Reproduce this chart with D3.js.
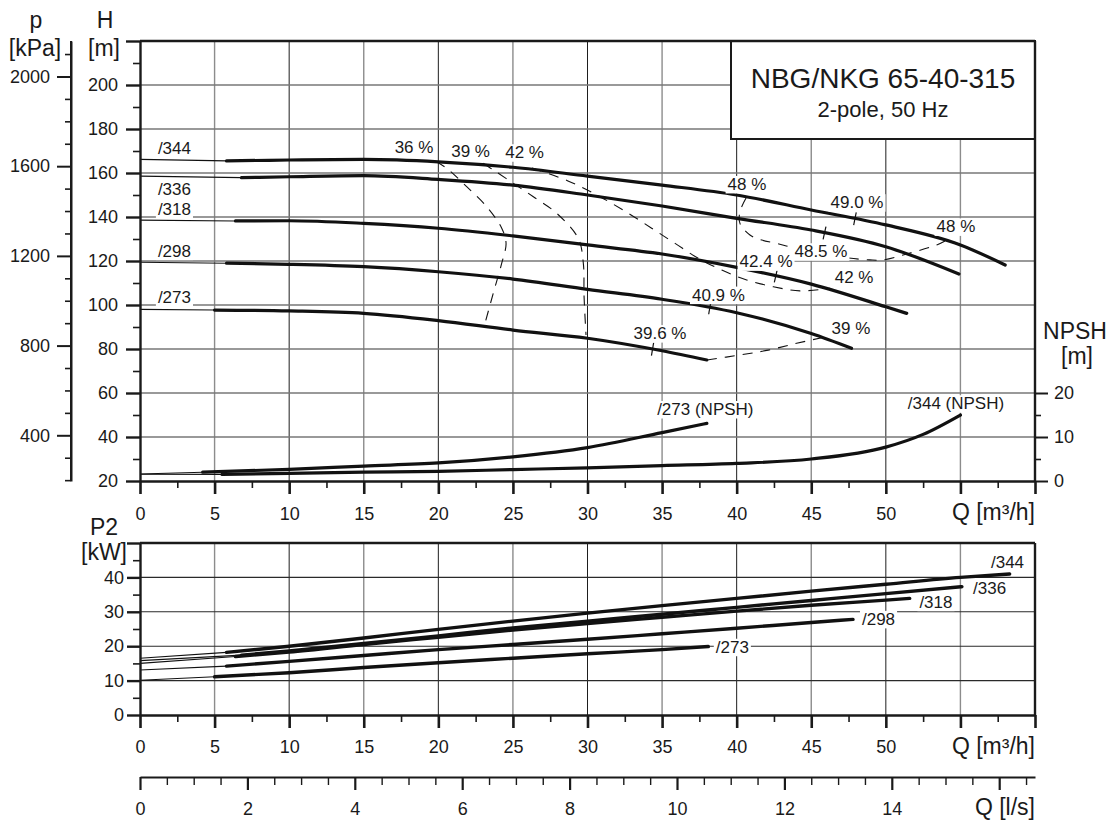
<!DOCTYPE html>
<html><head><meta charset="utf-8">
<script src="https://cdn.jsdelivr.net/npm/d3@7/dist/d3.min.js"></script>
<style>
body{margin:0;background:#fff;}
svg text{font-family:"Liberation Sans",Arial,Helvetica,sans-serif;fill:#1a1a1a;}
</style></head><body>
<svg id="c" width="1113" height="823"></svg>
<script>
// ---------------- DATA ----------------
const impellers = ["/344", "/336", "/318", "/298", "/273"];
const thickFromQ = [5.8, 6.8, 6.4, 5.8, 5.0];           // Q where the solid (thick) part starts
const head344 = [[0,166.2],[5.8,165.5],[10,165.9],[15,166.2],[20,165.1],[25,162.6],[30,158.6],[35,154.5],[40,150.0],[45,143.2],[50,136.4],[55,127.3],[58,118.2]];
const head336 = [[0,158.6],[6.8,157.9],[10,158.3],[15,158.8],[20,157.1],[25,154.5],[30,150.0],[35,145.0],[40,139.4],[45,134.1],[50,126.5],[54.9,114.1]];
const head318 = [[0,138.6],[6.4,138.2],[10,138.3],[15,137.1],[20,134.9],[25,131.4],[30,127.3],[35,123.2],[40,117.1],[45,109.5],[50,99.2],[51.4,96.2]];
const head298 = [[0,119.4],[5.8,119.0],[10,118.5],[15,117.4],[20,115.1],[25,111.8],[30,107.1],[35,102.6],[40,96.5],[45,87.0],[47.7,80.3]];
const head273 = [[0,98.0],[5,97.7],[10,97.3],[15,96.2],[20,92.9],[25,88.6],[30,84.9],[35,79.2],[38,75.0]];

const power344 = [[0,16.5],[5.8,18.2],[10,20.0],[15,22.4],[20,24.9],[25,27.3],[30,29.6],[35,31.8],[40,33.9],[45,36.0],[50,38.0],[55,40.0],[58.3,41.0]];
const power336 = [[0,15.8],[6.8,17.4],[10,18.6],[15,20.8],[20,23.0],[25,25.3],[30,27.3],[35,29.3],[40,31.3],[45,33.3],[50,35.3],[55.1,37.3]];
const power318 = [[0,15.0],[6.4,17.0],[10,18.3],[15,20.5],[20,22.6],[25,24.7],[30,26.6],[35,28.4],[40,30.2],[45,31.9],[50,33.4],[51.6,33.9]];
const power298 = [[0,13.1],[5.8,14.2],[10,15.6],[15,17.3],[20,19.0],[25,20.5],[30,22.0],[35,23.6],[40,25.2],[45,26.9],[47.8,27.8]];
const power273 = [[0,10.1],[5,11.1],[10,12.3],[15,13.8],[20,15.2],[25,16.5],[30,17.8],[35,19.0],[38.1,19.9]];

const npshNames = ["/273 (NPSH)", "/344 (NPSH)"];
const npshThickFromQ = [4.2, 5.5];
const npsh273 = [[0,1.6],[4.2,2.0],[10,2.65],[15,3.4],[20,4.1],[25,5.5],[30,7.6],[35,11.0],[38,13.1]];
const npsh344 = [[0,1.55],[5.5,1.5],[10,1.75],[15,2.0],[20,2.2],[25,2.6],[30,3.0],[35,3.5],[40,4.0],[45,5.0],[50,7.7],[52.5,10.6],[55,15.0]];
const npshLabelQ = [37.9, 54.7];
const npshLabelVal = [15.0, 16.3];

// iso-efficiency contours (Q, H)
const eff36 = [[19.84,165.2],[20.56,162.1],[21.90,153.8],[23.24,144.7],[24.25,134.9],[24.54,128.0],[24.25,119.0],[23.68,105.3],[23.13,91.7]];
const eff39 = [[23.01,164.4],[23.68,161.4],[25.03,155.3],[26.37,149.2],[27.93,141.7],[29.38,130.3],[29.72,119.0],[29.77,103.8],[29.90,86.4]];
const eff42 = [[26.28,162.3],[28.69,156.4],[30.84,149.2],[32.74,141.7],[34.30,134.9],[35.87,128.0],[37.43,121.2],[39.0,115.9],[40.67,111.4],[42.46,108.3],[44.24,106.4],[46.26,107.6]];
const eff48 = [[40.63,148.6],[40.22,142.4],[40.22,137.1],[40.89,131.8],[41.68,129.5],[42.68,128.0],[43.91,125.8],[45.58,123.6],[47.46,121.4],[48.93,120.5],[49.81,120.5],[51.40,123.2],[53.41,127.3],[53.97,129.1]];
const eff39low = [[38.01,75.0],[40.22,77.3],[42.12,79.5],[44.02,82.6],[45.70,85.1]];

// best-efficiency marks on each head curve
const bepQ = [47.93, 45.89, 42.62, 38.2, 34.36];

// efficiency labels
const effLabels = ["36 %","39 %","42 %","48 %","49.0 %","48 %","48.5 %","42.4 %","42 %","40.9 %","39 %","39.6 %"];
const effLabelQ = [18.37,22.16,25.78,40.69,48.07,54.70,45.65,41.97,47.87,38.78,47.66,34.86];
const effLabelH = [169.0,167.4,166.7,152.3,144.0,133.0,121.7,117.1,109.9,102.0,86.8,84.5];

// curve name labels
const headLabelQ = 1.2;
const headLabelH = [168.6,150.0,140.9,122.0,100.8];
const powerLabelQ = [57.05,55.85,52.25,48.4,38.6];
const powerLabelP = [42.7,35.2,31.2,26.2,18.1];

// axis ticks
const qMajor = [0,5,10,15,20,25,30,35,40,45,50,55,60];
const qMinor = [2.5,7.5,12.5,17.5,22.5,27.5,32.5,37.5,42.5,47.5,52.5,57.5];
const hMajor = [20,40,60,80,100,120,140,160,180,200,220];
const hMinor = [30,50,70,90,110,130,150,170,190,210];
const pMajor = [400,800,1200,1600,2000];
const pMinor = [200,300,500,600,700,900,1000,1100,1300,1400,1500,1700,1800,1900,2100];
const npshMajor = [0,10,20];
const npshMinor = [5,15];
const p2Major = [0,10,20,30,40,50];
const p2Minor = [5,15,25,35,45];
const lsMajor = [0,2,4,6,8,10,12,14,16];
const lsMinor = [0.5,1,1.5,2.5,3,3.5,4.5,5,5.5,6.5,7,7.5,8.5,9,9.5,10.5,11,11.5,12.5,13,13.5,14.5,15,15.5,16.5];
const titleLines = ["NBG/NKG 65-40-315","2-pole, 50 Hz"];

// ---------------- SCALES ----------------
const x = d3.scaleLinear([0,60],[140,1035]);
const yH = d3.scaleLinear([20,220],[481,41]);
const yKpa = d3.scaleLinear([20*9.81,220*9.81],[481,41]);
const yN = d3.scaleLinear([0,100],[481,41]);
const yP = d3.scaleLinear([0,50],[715,543]);
const xLs = d3.scaleLinear([0,60/3.6],[140,1035]);

const svg = d3.select('#c');
const FONT = '"Liberation Sans",Arial,Helvetica,sans-serif';
const INK = '#1a1a1a';

// ---------------- GRID ----------------
const grid = svg.append('g');
const qGrid = d3.range(5,60,5);
function vGrid(y0,y1){
  grid.append('g').selectAll('line').data(qGrid).join('line')
    .attr('x1',d=>x(d)).attr('x2',d=>x(d)).attr('y1',y0).attr('y2',y1)
    .attr('stroke',d=>d%10===0?'#1e1e1e':'#8c8c8c').attr('stroke-width',d=>d%10===0?1:1.4);
}
vGrid(yH(220),yH(20));
vGrid(yP(50),yP(0));
grid.append('g').selectAll('line').data(d3.range(40,220,20)).join('line')
  .attr('x1',x(0)).attr('x2',x(60)).attr('y1',d=>yH(d)).attr('y2',d=>yH(d))
  .attr('stroke','#777').attr('stroke-width',1.4);
grid.append('g').selectAll('line').data([10,20,30,40]).join('line')
  .attr('x1',x(0)).attr('x2',x(60)).attr('y1',d=>yP(d)).attr('y2',d=>yP(d))
  .attr('stroke','#2a2a2a').attr('stroke-width',1.1);

// ---------------- TITLE BOX ----------------
const box = svg.append('g');
box.append('rect').attr('x',731).attr('y',yH(220)).attr('width',x(60)-731).attr('height',98)
  .attr('fill','#fff').attr('stroke',INK).attr('stroke-width',2);
box.append('text').attr('x',883).attr('y',88).attr('text-anchor','middle').attr('font-size',28).text(titleLines[0]);
box.append('text').attr('x',883).attr('y',117).attr('text-anchor','middle').attr('font-size',22).text(titleLines[1]);

// ---------------- CURVES ----------------
const curves = svg.append('g').attr('fill','none').attr('stroke','#111');
function drawSplit(data, from, lineGen, w){
  const thin = data.filter(d=>d[0]<=from), thick = data.filter(d=>d[0]>=from);
  curves.append('path').attr('d',lineGen(thin)).attr('stroke-width',1.1);
  curves.append('path').attr('d',lineGen(thick)).attr('stroke-width',w).attr('stroke-linecap','round');
}
const headLine = d3.line().x(d=>x(d[0])).y(d=>yH(d[1])).curve(d3.curveMonotoneX);
const powLine = d3.line().x(d=>x(d[0])).y(d=>yP(d[1])).curve(d3.curveMonotoneX);
const npshLine = d3.line().x(d=>x(d[0])).y(d=>yN(d[1])).curve(d3.curveMonotoneX);
const heads = [head344,head336,head318,head298,head273];
const powers = [power344,power336,power318,power298,power273];
heads.forEach((h,i)=>drawSplit(h,thickFromQ[i],headLine,3.2));
powers.forEach((p,i)=>drawSplit(p,thickFromQ[i],powLine,3.4));
[npsh273,npsh344].forEach((n,i)=>drawSplit(n,npshThickFromQ[i],npshLine,3.2));

const effLine = d3.line().x(d=>x(d[0])).y(d=>yH(d[1])).curve(d3.curveCatmullRom.alpha(0.5));
[eff36,eff39,eff42,eff48,eff39low].forEach(e=>{
  curves.append('path').attr('d',effLine(e)).attr('stroke-width',1.1).attr('stroke-dasharray','10,8');
});

// best efficiency ticks (perpendicular to curve)
heads.forEach((h,i)=>{
  const q = bepQ[i];
  let k = 0; while (k < h.length-2 && h[k+1][0] < q) k++;
  const a = h[k], b = h[k+1];
  const t = (q-a[0])/(b[0]-a[0]);
  const px = x(q), py = yH(a[1]+t*(b[1]-a[1]));
  const dx = x(b[0])-x(a[0]), dy = yH(b[1])-yH(a[1]);
  const L = Math.hypot(dx,dy), nx = -dy/L, ny = dx/L;
  curves.append('line').attr('x1',px-nx*6.5).attr('y1',py-ny*6.5).attr('x2',px+nx*6.5).attr('y2',py+ny*6.5)
    .attr('stroke-width',1.2);
});

// ---------------- LABELS ----------------
const labels = svg.append('g');
function label(xp, yp, txt, size, anchor){
  const t = labels.append('text').attr('x',xp).attr('y',yp).attr('font-size',size)
    .attr('text-anchor',anchor||'middle').text(txt);
  const bb = t.node().getBBox();
  labels.insert('rect',()=>t.node()).attr('x',bb.x-2).attr('y',bb.y+1).attr('width',bb.width+4)
    .attr('height',bb.height-1.5).attr('fill','#fff');
}
effLabels.forEach((s,i)=>label(x(effLabelQ[i]), yH(effLabelH[i]), s, 17));
impellers.forEach((s,i)=>label(x(headLabelQ), yH(headLabelH[i]), s, 17, 'start'));
impellers.forEach((s,i)=>label(x(powerLabelQ[i]), yP(powerLabelP[i]), s, 17, 'start'));
npshNames.forEach((s,i)=>label(x(npshLabelQ[i]), yN(npshLabelVal[i]), s, 17));

// ---------------- AXES ----------------
function axis(gen, tx, ty, w, size){
  const g = svg.append('g').attr('transform',`translate(${tx},${ty})`).call(gen);
  g.attr('font-size',size||18).attr('font-family',FONT);
  g.select('.domain').attr('stroke',INK).attr('stroke-width',w);
  g.selectAll('.tick line').attr('stroke',INK).attr('stroke-width',w);
  g.selectAll('.tick text').attr('fill',INK);
  return g;
}
function noDomain(g){ g.select('.domain').remove(); return g; }
const plain = d3.format('d');

// H axis
axis(d3.axisLeft(yH).tickValues(hMajor).tickSize(14).tickPadding(8).tickSizeOuter(0)
  .tickFormat(d=>d===220?'':plain(d)), x(0), 0, 2.4);
noDomain(axis(d3.axisLeft(yH).tickValues(hMinor).tickSize(7).tickFormat(''), x(0), 0, 1.6));
// p axis
axis(d3.axisLeft(yKpa).tickValues(pMajor).tickSize(14).tickPadding(7).tickSizeOuter(0).tickFormat(plain), 71, 0, 2);
noDomain(axis(d3.axisLeft(yKpa).tickValues(pMinor).tickSize(6).tickFormat(''), 71, 0, 1.6));
svg.append('line').attr('x1',71).attr('x2',71).attr('y1',yH(220)).attr('y2',yKpa(200)).attr('stroke',INK).attr('stroke-width',2);
// NPSH axis
noDomain(axis(d3.axisRight(yN).tickValues(npshMajor).tickSize(13).tickPadding(6).tickFormat(plain), x(60), 0, 2));
noDomain(axis(d3.axisRight(yN).tickValues(npshMinor).tickSize(6).tickFormat(''), x(60), 0, 1.6));
// Q axis of head chart
axis(d3.axisBottom(x).tickValues(qMajor).tickSize(13).tickPadding(13).tickSizeOuter(0)
  .tickFormat(d=>d>50?'':plain(d)), 0, yH(20), 2.6);
noDomain(axis(d3.axisBottom(x).tickValues(qMinor).tickSize(7).tickFormat(''), 0, yH(20), 1.6));
// borders of head chart
svg.append('line').attr('x1',x(0)).attr('x2',x(60)).attr('y1',yH(220)).attr('y2',yH(220)).attr('stroke',INK).attr('stroke-width',2.4);
svg.append('line').attr('x1',x(60)).attr('x2',x(60)).attr('y1',yH(220)).attr('y2',yH(20)).attr('stroke',INK).attr('stroke-width',2.4);

// P2 axis
axis(d3.axisLeft(yP).tickValues(p2Major).tickSize(13).tickPadding(3).tickSizeOuter(0)
  .tickFormat(d=>d===50?'':plain(d)), x(0), 0, 2.4);
noDomain(axis(d3.axisLeft(yP).tickValues(p2Minor).tickSize(7).tickFormat(''), x(0), 0, 1.6));
axis(d3.axisBottom(x).tickValues(qMajor).tickSize(13).tickPadding(12).tickSizeOuter(0)
  .tickFormat(d=>d>50?'':plain(d)), 0, yP(0), 2.6);
noDomain(axis(d3.axisBottom(x).tickValues(qMinor).tickSize(7).tickFormat(''), 0, yP(0), 1.6));
svg.append('line').attr('x1',x(0)).attr('x2',x(60)).attr('y1',yP(50)).attr('y2',yP(50)).attr('stroke',INK).attr('stroke-width',2.4);
svg.append('line').attr('x1',x(60)).attr('x2',x(60)).attr('y1',yP(50)).attr('y2',yP(0)).attr('stroke',INK).attr('stroke-width',2.4);

// l/s axis
axis(d3.axisBottom(xLs).tickValues(lsMajor).tickSize(13).tickPadding(12).tickSizeOuter(0)
  .tickFormat(d=>d>14?'':plain(d)), 0, 777, 2.2);
noDomain(axis(d3.axisBottom(xLs).tickValues(lsMinor).tickSize(8).tickFormat(''), 0, 777, 1.4));

// axis titles
const titles = svg.append('g').attr('font-size',23);
function ttl(xp,yp,s,anchor){ titles.append('text').attr('x',xp).attr('y',yp).attr('text-anchor',anchor||'middle').text(s); }
ttl(36,28,'p'); ttl(35,56,'[kPa]');
ttl(105,28,'H'); ttl(104,56,'[m]');
ttl(1075,339,'NPSH'); ttl(1077,364,'[m]');
ttl(1035,520,'Q [m³/h]','end');
ttl(104,535,'P2'); ttl(104,560,'[kW]');
ttl(1035,754,'Q [m³/h]','end');
ttl(1035,815,'Q [l/s]','end');
</script>
</body></html>
